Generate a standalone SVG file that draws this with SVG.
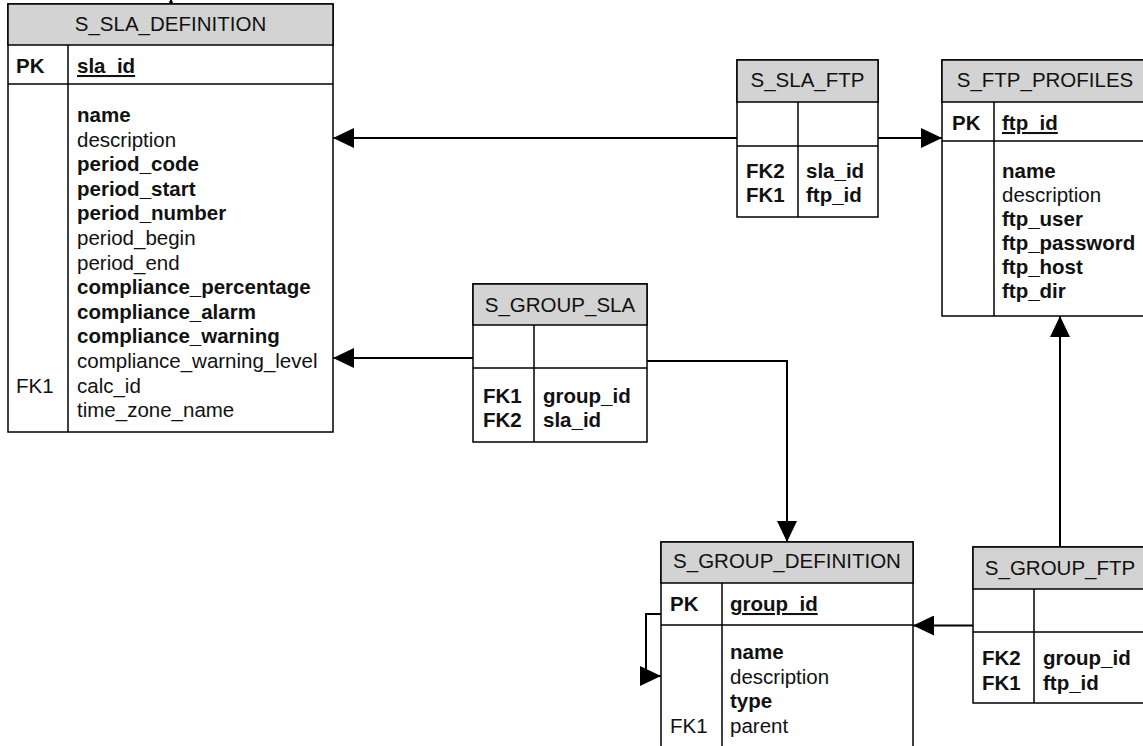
<svg xmlns="http://www.w3.org/2000/svg" width="1143" height="746" viewBox="0 0 1143 746">
<style>
.box{fill:#fff;stroke:#000;stroke-width:1.5}
.hdr{fill:#d3d3d3;stroke:#000;stroke-width:1.5}
.ln{stroke:#000;stroke-width:1.5}
text{font-family:"Liberation Sans",Arial,sans-serif;font-size:20.5px;fill:#111}
.b{font-weight:bold}
.u{text-decoration:underline}
.c{text-anchor:middle}
.conn{fill:none;stroke:#000;stroke-width:2}
</style>
<defs>
<marker id="ah" viewBox="0 0 21 20" markerUnits="userSpaceOnUse" markerWidth="21" markerHeight="20" refX="21" refY="10" orient="auto">
<path d="M0,0 L21,10 L0,20 z" fill="#000"/>
</marker>
</defs>
<rect width="1143" height="746" fill="#fff"/>

<g id="connectors">
<path class="conn" d="M737,138 H333" marker-end="url(#ah)"/>
<path class="conn" d="M878,138 H942" marker-end="url(#ah)"/>
<path class="conn" d="M473,358 H333" marker-end="url(#ah)"/>
<path class="conn" d="M647,361 H787 V542" marker-end="url(#ah)"/>
<path class="conn" d="M1060,547 V316" marker-end="url(#ah)"/>
<path class="conn" d="M973,625.5 H913" marker-end="url(#ah)"/>
<path class="conn" d="M661,614 H646 V676 H661" marker-end="url(#ah)"/>
<path class="conn" d="M171,0 V4" stroke-width="1.2"/>
<path d="M168.5,1.5 L173.5,1.5 L171,4.5 z" fill="#000"/>
</g>

<g id="S_SLA_DEFINITION">
<rect class="box" x="8" y="4" width="325" height="428"/>
<rect class="hdr" x="8" y="4" width="325" height="41"/>
<line class="ln" x1="8" y1="84" x2="333" y2="84"/>
<line class="ln" x1="68" y1="45" x2="68" y2="432"/>
<text class="c" x="170.5" y="31">S_SLA_DEFINITION</text>
<text class="b" x="16" y="73">PK</text>
<text class="b u" x="77" y="73">sla_id</text>
<text class="b" x="77" y="122">name</text>
<text x="77" y="146.6">description</text>
<text class="b" x="77" y="171.2">period_code</text>
<text class="b" x="77" y="195.8">period_start</text>
<text class="b" x="77" y="220.4">period_number</text>
<text x="77" y="245">period_begin</text>
<text x="77" y="269.6">period_end</text>
<text class="b" x="77" y="294.2">compliance_percentage</text>
<text class="b" x="77" y="318.8">compliance_alarm</text>
<text class="b" x="77" y="343.4">compliance_warning</text>
<text x="77" y="368">compliance_warning_level</text>
<text x="16" y="392.6">FK1</text>
<text x="77" y="392.6">calc_id</text>
<text x="77" y="417.2">time_zone_name</text>
</g>

<g id="S_SLA_FTP">
<rect class="box" x="737" y="60" width="141" height="157"/>
<rect class="hdr" x="737" y="60" width="141" height="42"/>
<line class="ln" x1="737" y1="146" x2="878" y2="146"/>
<line class="ln" x1="798" y1="102" x2="798" y2="217"/>
<text class="c" x="807.5" y="87">S_SLA_FTP</text>
<text class="b" x="746" y="178">FK2</text>
<text class="b" x="806" y="178">sla_id</text>
<text class="b" x="746" y="202">FK1</text>
<text class="b" x="806" y="202">ftp_id</text>
</g>

<g id="S_FTP_PROFILES">
<rect class="box" x="942" y="60" width="206" height="256"/>
<rect class="hdr" x="942" y="60" width="206" height="42"/>
<line class="ln" x1="942" y1="141" x2="1148" y2="141"/>
<line class="ln" x1="994" y1="102" x2="994" y2="316"/>
<text class="c" x="1045" y="87">S_FTP_PROFILES</text>
<text class="b" x="952" y="130">PK</text>
<text class="b u" x="1002" y="130">ftp_id</text>
<text class="b" x="1002" y="178">name</text>
<text x="1002" y="202">description</text>
<text class="b" x="1002" y="226">ftp_user</text>
<text class="b" x="1002" y="250">ftp_password</text>
<text class="b" x="1002" y="274">ftp_host</text>
<text class="b" x="1002" y="298">ftp_dir</text>
</g>

<g id="S_GROUP_SLA">
<rect class="box" x="473" y="284" width="174" height="158"/>
<rect class="hdr" x="473" y="284" width="174" height="41"/>
<line class="ln" x1="473" y1="368" x2="647" y2="368"/>
<line class="ln" x1="534" y1="325" x2="534" y2="442"/>
<text class="c" x="560" y="312">S_GROUP_SLA</text>
<text class="b" x="483" y="403">FK1</text>
<text class="b" x="543" y="403">group_id</text>
<text class="b" x="483" y="427">FK2</text>
<text class="b" x="543" y="427">sla_id</text>
</g>

<g id="S_GROUP_DEFINITION">
<rect class="box" x="661" y="542" width="252" height="220"/>
<rect class="hdr" x="661" y="542" width="252" height="41"/>
<line class="ln" x1="661" y1="625" x2="913" y2="625"/>
<line class="ln" x1="722" y1="583" x2="722" y2="762"/>
<text class="c" x="787" y="568">S_GROUP_DEFINITION</text>
<text class="b" x="670" y="611">PK</text>
<text class="b u" x="730" y="611">group_id</text>
<text class="b" x="730" y="659">name</text>
<text x="730" y="684">description</text>
<text class="b" x="730" y="708">type</text>
<text x="670" y="733">FK1</text>
<text x="730" y="733">parent</text>
</g>

<g id="S_GROUP_FTP">
<rect class="box" x="973" y="547" width="175" height="156"/>
<rect class="hdr" x="973" y="547" width="175" height="42"/>
<line class="ln" x1="973" y1="632" x2="1148" y2="632"/>
<line class="ln" x1="1034" y1="589" x2="1034" y2="703"/>
<text class="c" x="1060" y="575">S_GROUP_FTP</text>
<text class="b" x="982" y="665">FK2</text>
<text class="b" x="1043" y="665">group_id</text>
<text class="b" x="982" y="690">FK1</text>
<text class="b" x="1043" y="690">ftp_id</text>
</g>
</svg>
